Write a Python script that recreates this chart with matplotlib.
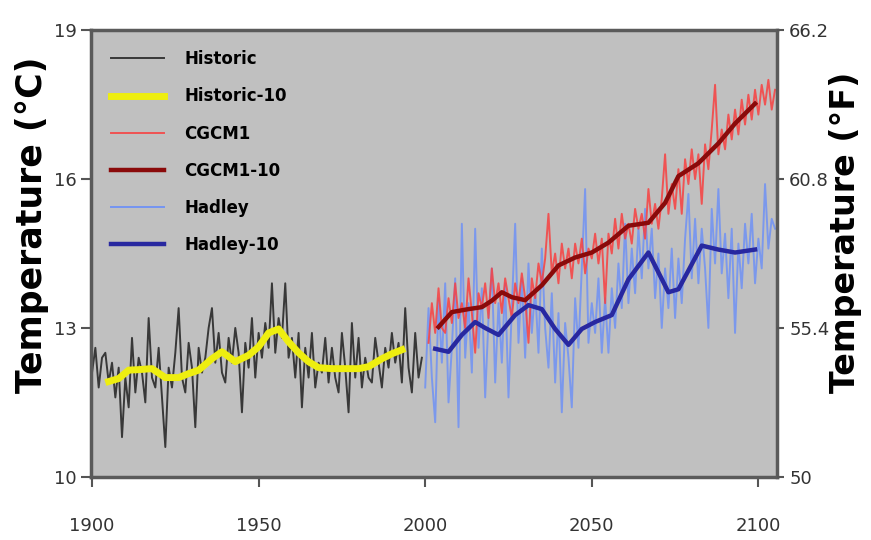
import numpy as np
import matplotlib
matplotlib.use('Agg')
from matplotlib import pyplot as plt

# annual historic record, 1900-1999
hist_years = list(range(1900, 2000))
hist_vals = [12.1, 12.6, 11.8, 12.4, 12.5, 11.9, 12.3, 11.6, 12.2, 10.8,
             12.0, 11.4, 12.8, 11.7, 12.4, 12.1, 11.5, 13.2, 12.0, 11.8,
             12.6, 11.6, 10.6, 12.2, 11.8, 12.5, 13.4, 12.0, 11.7, 12.7,
             12.2, 11.0, 12.6, 12.1, 12.4, 13.0, 13.4, 12.3, 12.9, 12.1,
             11.9, 12.8, 12.3, 13.0, 12.5, 11.3, 12.7, 12.2, 13.2, 12.0,
             12.9, 12.4, 13.1, 12.6, 13.9, 12.5, 13.2, 12.8, 13.9, 12.4,
             12.8, 12.0, 12.9, 11.4, 12.6, 12.0, 12.9, 11.8, 12.3, 12.1,
             12.8, 11.9, 12.6, 12.0, 11.7, 12.9, 12.2, 11.3, 13.1, 12.0,
             12.8, 11.8, 12.4, 12.0, 11.9, 12.8, 12.3, 11.8, 12.6, 12.2,
             12.9, 12.3, 12.7, 11.9, 13.4, 12.2, 11.7, 12.9, 12.0, 12.4]

# 10 year mean of the historic record
hist10_years = [1905, 1908, 1911, 1914, 1918, 1922, 1926, 1929, 1932, 1936,
                1939, 1943, 1947, 1950, 1953, 1956, 1959, 1962, 1965, 1968,
                1972, 1976, 1980, 1983, 1987, 1990, 1993]
hist10_vals = [11.92, 11.98, 12.15, 12.16, 12.18, 12.0, 12.0, 12.08, 12.15, 12.38,
               12.52, 12.32, 12.45, 12.62, 12.9, 12.98, 12.72, 12.5, 12.32, 12.2,
               12.18, 12.18, 12.18, 12.22, 12.38, 12.48, 12.56]

# CGCM1 scenario, 2001-2105
cgcm_years = list(range(2001, 2106))
cgcm_vals = [12.7, 13.5, 12.9, 13.8, 13.0, 12.9, 13.6, 13.1, 13.9, 13.2,
             13.5, 13.0, 14.0, 13.3, 12.5, 13.7, 13.4, 13.9, 13.2, 14.2,
             13.5, 13.9, 13.3, 14.0, 13.6, 13.2, 13.9, 13.5, 14.1, 13.6,
             12.7, 14.0, 13.6, 14.3, 13.9, 14.4, 15.3, 14.1, 14.5, 13.9,
             14.7, 14.2, 14.6, 14.0, 14.7, 14.3, 14.8, 14.1, 14.6, 14.4,
             14.9, 14.3, 14.8, 13.5, 14.9, 14.5, 15.2, 14.6, 15.3, 14.8,
             15.1, 14.7, 15.4, 15.0, 15.3, 14.8, 15.8, 15.1, 15.5, 15.0,
             15.6, 16.5, 15.3, 15.9, 15.4, 16.2, 15.3, 16.4, 15.9, 16.6,
             16.0, 16.5, 15.5, 16.7, 16.2, 17.0, 17.9, 16.5, 17.0, 16.6,
             17.3, 16.8, 17.4, 16.9, 17.6, 17.1, 17.7, 17.2, 17.8, 17.3,
             17.9, 17.5, 18.0, 17.4, 17.8]

cgcm10_years = [2004, 2008, 2013, 2017, 2020, 2023, 2026, 2030, 2035, 2040, 2045,
                2050, 2055, 2061, 2067, 2072, 2076, 2082, 2088, 2093, 2099]
cgcm10_vals = [13.02, 13.32, 13.38, 13.42, 13.55, 13.72, 13.62, 13.56, 13.86, 14.26, 14.42,
               14.52, 14.72, 15.06, 15.12, 15.52, 16.06, 16.32, 16.72, 17.12, 17.52]

# Hadley scenario, 2000-2105
had_years = list(range(2000, 2106))
had_vals = [11.8, 13.4, 12.0, 11.1, 13.6, 12.3, 13.9, 11.5, 12.6, 14.0,
            11.0, 15.1, 12.4, 13.5, 12.1, 15.0, 12.6, 13.8, 11.6, 13.2,
            14.2, 11.9, 13.5, 12.3, 13.9, 11.6, 13.4, 15.1, 12.7, 14.0,
            12.4, 14.3, 12.9, 13.8, 12.5, 14.6, 13.0, 12.2, 13.7, 11.9,
            13.3, 11.3, 13.1, 12.4, 11.4, 13.6, 12.6, 14.2, 15.8, 12.7,
            13.5, 12.9, 14.0, 12.5, 13.6, 12.5, 13.8, 13.0, 14.3, 13.4,
            15.1, 13.5, 14.6, 13.7, 15.0, 14.0, 15.4, 14.2, 15.0, 13.6,
            14.5, 13.0, 14.2, 13.4, 14.6, 13.2, 14.4, 13.5, 14.8, 15.7,
            14.0, 15.2, 13.9, 15.0, 14.2, 13.0, 15.4, 14.3, 15.8, 14.1,
            14.9, 13.6, 15.0, 12.9, 14.7, 13.8, 15.1, 14.3, 15.3, 13.9,
            14.8, 14.2, 15.9, 14.6, 15.2, 15.0]

had10_years = [2003, 2007, 2011, 2015, 2018, 2022, 2027, 2031, 2035, 2039, 2043,
               2047, 2051, 2056, 2061, 2067, 2073, 2076, 2083, 2088, 2093, 2099]
had10_vals = [12.58, 12.52, 12.86, 13.12, 13.0, 12.86, 13.26, 13.46, 13.38, 12.98, 12.66,
              12.98, 13.12, 13.26, 13.98, 14.52, 13.72, 13.78, 14.66, 14.58, 14.52, 14.58]

x_ticks = [1900, 1950, 2000, 2050, 2100]
c_ticks = [10, 13, 16, 19]
f_ticks = [50, 55.4, 60.8, 66.2]

tick_font = ['Liberation Sans Narrow', 'DejaVu Sans Condensed', 'DejaVu Sans']

fig = plt.figure(figsize=(8.71, 5.4), dpi=100)
ax = fig.add_axes([0.1045, 0.117, 0.788, 0.827])
ax.set_facecolor('#c0c0c0')

ax.plot(hist_years, hist_vals, color='#383838', lw=1.4, label='Historic')
ax.plot(hist10_years, hist10_vals, color='#eeee10', lw=5, label='Historic-10')
ax.plot(had_years, had_vals, color='#7494f2', lw=1.4, alpha=0.9)
ax.plot(cgcm_years, cgcm_vals, color='#f84040', lw=1.4, alpha=0.85, label='CGCM1')
ax.plot(cgcm10_years, cgcm10_vals, color='#8a0a0a', lw=3.2, label='CGCM1-10')
ax.plot([], [], color='#7494f2', lw=1.4, label='Hadley')
ax.plot(had10_years, had10_vals, color='#2828a0', lw=3.2, label='Hadley-10')

ax.set_xlim(1899.7, 2105.7)
ax.set_ylim(10, 19)
ax.set_xticks(x_ticks)
ax.set_yticks(c_ticks)
for s in ax.spines.values():
    s.set_color('#5a5a5a')
    s.set_linewidth(2.5)
ax.tick_params(direction='out', length=7, width=1.5, color='#555555',
               labelcolor='#333333', labelsize=13)
ax.tick_params(axis='x', pad=22)
for lab in ax.get_xticklabels() + ax.get_yticklabels():
    lab.set_family(tick_font)

ax2 = ax.twinx()
ax2.set_ylim(50, 66.2)
ax2.set_yticks(f_ticks)
ax2.set_yticklabels(['50', '55.4', '60.8', '66.2'])
ax2.tick_params(direction='out', length=5, width=1.5, color='#555555',
                labelcolor='#333333', labelsize=13)
for lab in ax2.get_yticklabels():
    lab.set_family(tick_font)
for s in ax2.spines.values():
    s.set_visible(False)

# axis titles placed by hand, as in the original
fig.text(32 / 871, 1 - 225 / 540, 'Temperature (°C)', rotation=90, ha='center',
         va='center', fontsize=25, fontweight='bold')
fig.text(845 / 871, 1 - 232 / 540, 'Temperature (°F)', rotation=90, ha='center',
         va='center', fontsize=24, fontweight='bold')

leg = ax.legend(loc='upper left', frameon=False, handlelength=3.2,
                labelspacing=1.15, handletextpad=1.2, borderaxespad=0.8,
                prop={'family': tick_font, 'weight': 'bold', 'size': 12})

fig.savefig('out.png', dpi=100)
